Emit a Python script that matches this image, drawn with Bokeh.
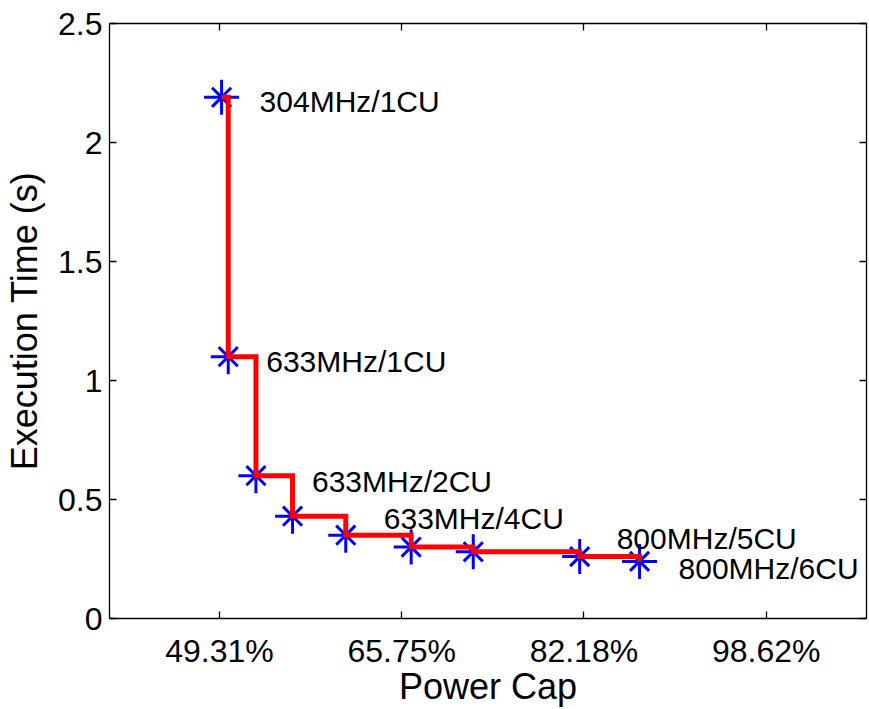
from bokeh.plotting import figure
from bokeh.models import (Range1d, FixedTicker, LinearAxis, CustomJSTickFormatter,
                          ColumnDataSource)
from bokeh.core.properties import value
from bokeh.embed import file_html
from bokeh.resources import INLINE

# ---- data ----
power_cap = [49.5, 50.1, 52.6, 55.9, 60.7, 66.6, 72.2, 81.8, 87.2]   # % of max power
exec_time = [2.19, 1.10, 0.60, 0.43, 0.35, 0.30, 0.28, 0.26, 0.24]   # seconds
config_labels = ["304MHz/1CU", "633MHz/1CU", "633MHz/2CU",
                 "633MHz/4CU", "800MHz/5CU", "800MHz/6CU"]
label_point = [0, 1, 2, 4, 7, 8]          # which point each label annotates
x_ticks = [49.31, 65.75, 82.18, 98.62]
y_ticks = [0, 0.5, 1, 1.5, 2, 2.5]

# ---- styling ----
FONT = "Liberation Sans"
label_dx = [38, 38, 56, 38, 37, 39]       # screen-pixel offsets of labels
label_dy = [4, 5, 6, -17, -18, 7]

p = figure(width=869, height=709, output_backend="svg", toolbar_location=None,
           x_range=Range1d(39.39, 107.67), y_range=Range1d(0, 2.5),
           x_axis_location=None, y_axis_location=None,
           min_border_left=109, min_border_right=3, min_border_top=23,
           min_border_bottom=83)
p.xgrid.visible = False
p.ygrid.visible = False
p.outline_line_color = None
p.background_fill_color = "white"
p.border_fill_color = "white"

xfmt = CustomJSTickFormatter(code="return tick.toFixed(2) + '%';")
yfmt = CustomJSTickFormatter(code="return tick.toString();")
nofmt = CustomJSTickFormatter(code="return '';")


def style_axis(ax, show_labels):
    ax.axis_line_color = "black"
    ax.axis_line_width = 1.3
    ax.major_tick_line_color = "black"
    ax.major_tick_line_width = 1.3
    ax.major_tick_in = 7
    ax.major_tick_out = 0
    ax.minor_tick_line_color = None
    ax.major_label_text_font = FONT
    ax.major_label_text_color = "black"
    ax.major_label_text_font_size = "32px"
    if not show_labels:
        ax.major_label_standoff = 0
    ax.axis_label_text_font = FONT
    ax.axis_label_text_font_size = "36px"
    ax.axis_label_text_font_style = "normal"
    ax.axis_label_text_color = "black"


bottom = LinearAxis(ticker=FixedTicker(ticks=x_ticks), formatter=xfmt,
                    axis_label="Power Cap")
style_axis(bottom, True)
bottom.major_label_standoff = 14
bottom.axis_label_standoff = -6
p.add_layout(bottom, "below")

left = LinearAxis(ticker=FixedTicker(ticks=y_ticks), formatter=yfmt,
                  axis_label="Execution Time (s)")
style_axis(left, True)
left.major_label_standoff = 7
left.axis_label_standoff = 10
p.add_layout(left, "left")

top = LinearAxis(ticker=FixedTicker(ticks=x_ticks), formatter=nofmt)
style_axis(top, False)
p.add_layout(top, "above")

right = LinearAxis(ticker=FixedTicker(ticks=y_ticks), formatter=nofmt)
style_axis(right, False)
p.add_layout(right, "right")

# stars (MATLAB '*' = plus + x)
pts = ColumnDataSource(dict(x=power_cap, y=exec_time))
p.scatter("x", "y", source=pts, marker="cross", size=35,
          line_color="#0000ff", line_width=3, fill_color=None)
p.scatter("x", "y", source=pts, marker="x", size=27,
          line_color="#0000ff", line_width=3, fill_color=None)

# step frontier line on top
p.step(power_cap, exec_time, mode="after", line_color="#ff0000",
       line_width=5, line_join="miter")

# labels
lab = ColumnDataSource(dict(
    x=[power_cap[i] for i in label_point],
    y=[exec_time[i] for i in label_point],
    text=config_labels, dx=label_dx, dy=label_dy))
p.text("x", "y", text="text", source=lab, x_offset="dx", y_offset="dy",
       text_align="left", text_baseline="alphabetic",
       text_font=value(FONT), text_font_size="30px", text_color="black")

open("out.html", "w").write(file_html(p, INLINE))
